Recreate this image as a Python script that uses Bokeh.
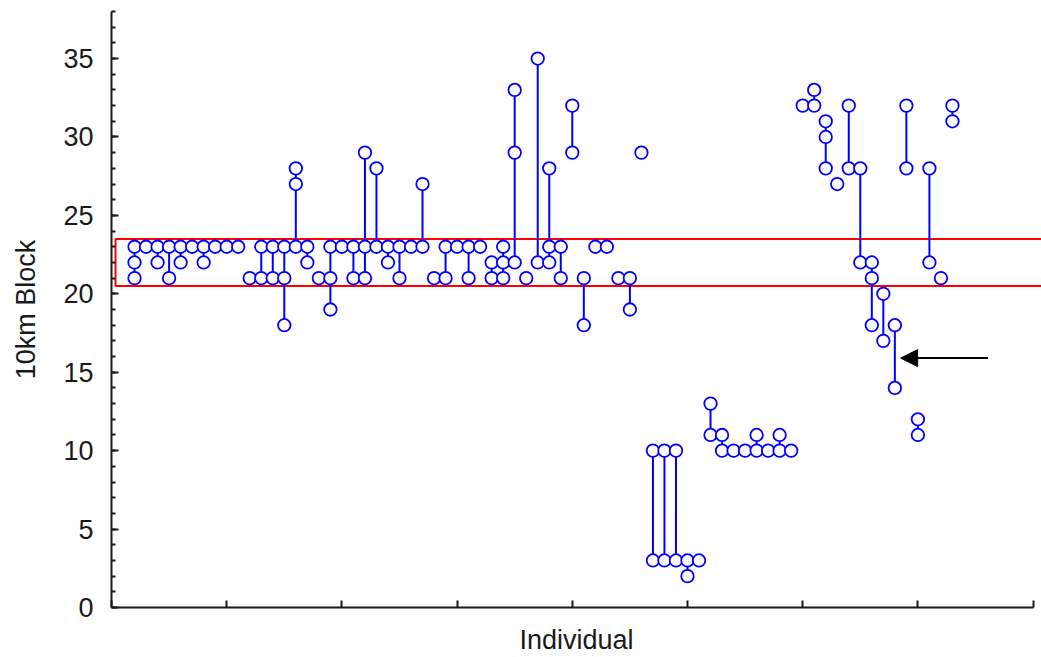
from bokeh.plotting import figure
from bokeh.models import (Range1d, SingleIntervalTicker, FixedTicker, Arrow, NormalHead,
                          ColumnDataSource)
from bokeh.embed import file_html
from bokeh.resources import INLINE

# ---------------- data ----------------
# one entry per recorded 10km block of an individual
individual = [
    2, 2, 2, 3, 4, 4, 5, 5, 6, 6, 7, 8, 8, 9, 10, 11,
    12, 13, 13, 14, 14, 15, 15, 15, 16, 16, 16, 17, 17, 18, 19, 19, 19, 20, 21, 21,
    22, 22, 22, 23, 23, 24, 24, 25, 25, 26, 27, 27, 28, 29, 29, 30, 31, 31,
    32, 33, 33, 34, 34, 34, 35, 35, 35, 36, 37, 37, 38, 38, 38, 39, 39, 40, 40, 41, 41,
    42, 43, 44, 45, 45, 46, 47, 47, 48, 48, 49, 49, 50, 50, 51,
    52, 52, 53, 53, 54, 55, 56, 56, 57, 58, 58, 59, 60, 61, 61,
    62, 62, 62, 63, 64, 64, 65, 65, 66, 66, 66, 67, 67, 68, 68, 69, 69, 70, 70, 71, 71, 72, 73, 73,
]
block = [
    23, 22, 21, 23, 23, 22, 23, 21, 23, 22, 23, 23, 22, 23, 23, 23,
    21, 23, 21, 23, 21, 23, 21, 18, 28, 27, 23, 23, 22, 21, 23, 21, 19, 23, 23, 21,
    29, 23, 21, 28, 23, 23, 22, 23, 21, 23, 27, 23, 21, 23, 21, 23, 23, 21,
    23, 22, 21, 23, 22, 21, 33, 29, 22, 21, 35, 22, 28, 23, 22, 23, 21, 32, 29, 21, 18,
    23, 23, 21, 21, 19, 29, 10, 3, 10, 3, 10, 3, 3, 2, 3,
    13, 11, 11, 10, 10, 10, 11, 10, 10, 11, 10, 10, 32, 33, 32,
    31, 30, 28, 27, 32, 28, 28, 22, 22, 21, 18, 20, 17, 18, 14, 32, 28, 12, 11, 28, 22, 21, 32, 31,
]

band_low = 20.5          # red reference band
band_high = 23.5
x_ticks = [0, 10, 20, 30, 40, 50, 60, 70, 80]

# vertical connector from the lowest to the highest block of each individual
lo, hi = {}, {}
for xi, yi in zip(individual, block):
    lo[xi] = min(lo.get(xi, yi), yi)
    hi[xi] = max(hi.get(xi, yi), yi)
seg_x = [k for k in lo if hi[k] > lo[k]]
seg_lo = [lo[k] for k in seg_x]
seg_hi = [hi[k] for k in seg_x]

FONT = "Liberation Sans"
BLUE = "#0000FF"
INK = "#1a1a1a"

p = figure(width=1041, height=657, output_backend="svg", toolbar_location=None,
           x_range=Range1d(0, 80.73), y_range=Range1d(0, 38),
           min_border_left=111, min_border_right=0, min_border_top=11,
           min_border_bottom=50)
p.outline_line_color = None
p.xgrid.visible = False
p.ygrid.visible = False
p.background_fill_color = "white"
p.border_fill_color = "white"

# red band
p.quad(left=[0.35], right=[90], bottom=[band_low], top=[band_high],
       fill_color=None, line_color="#FF0000", line_width=2)

# connectors and points
p.segment(x0=seg_x, y0=seg_lo, x1=seg_x, y1=seg_hi, line_color=BLUE, line_width=2)
src = ColumnDataSource(dict(individual=individual, block=block))
p.scatter(x="individual", y="block", source=src, marker="circle", size=12.5,
          fill_color="white", line_color=BLUE, line_width=1.8)

# arrow
p.add_layout(Arrow(end=NormalHead(size=17, fill_color="black", line_color="black",
                                  line_width=1),
                   x_start=76.1, y_start=15.9, x_end=68.5, y_end=15.9,
                   line_color="black", line_width=2))

# y axis
ya = p.yaxis[0]
ya.ticker = SingleIntervalTicker(interval=5, num_minor_ticks=5)
ya.major_tick_in = 7
ya.major_tick_out = 0
ya.minor_tick_in = 4
ya.minor_tick_out = 0
ya.axis_line_width = 2
ya.major_tick_line_width = 2
ya.minor_tick_line_width = 2
ya.axis_line_color = INK
ya.major_tick_line_color = INK
ya.minor_tick_line_color = INK
ya.major_label_standoff = 18
ya.major_label_text_font = FONT
ya.major_label_text_font_size = "27px"
ya.major_label_text_color = INK
ya.axis_label = "10km Block"
ya.axis_label_text_font = FONT
ya.axis_label_text_font_size = "27px"
ya.axis_label_text_font_style = "normal"
ya.axis_label_text_color = INK
ya.axis_label_standoff = 19

# x axis (ticks only)
xa = p.xaxis[0]
xa.ticker = FixedTicker(ticks=x_ticks)
xa.bounds = (0, 80)
xa.major_tick_in = 7
xa.major_tick_out = 0
xa.minor_tick_line_color = None
xa.axis_line_width = 2
xa.major_tick_line_width = 2
xa.axis_line_color = INK
xa.major_tick_line_color = INK
xa.major_label_text_font_size = "1px"
xa.major_label_text_alpha = 0
xa.major_label_standoff = 0
xa.axis_label = "Individual"
xa.axis_label_text_font = FONT
xa.axis_label_text_font_size = "27px"
xa.axis_label_text_font_style = "normal"
xa.axis_label_text_color = INK
xa.axis_label_standoff = 17

open("out.html", "w").write(file_html(p, INLINE))
